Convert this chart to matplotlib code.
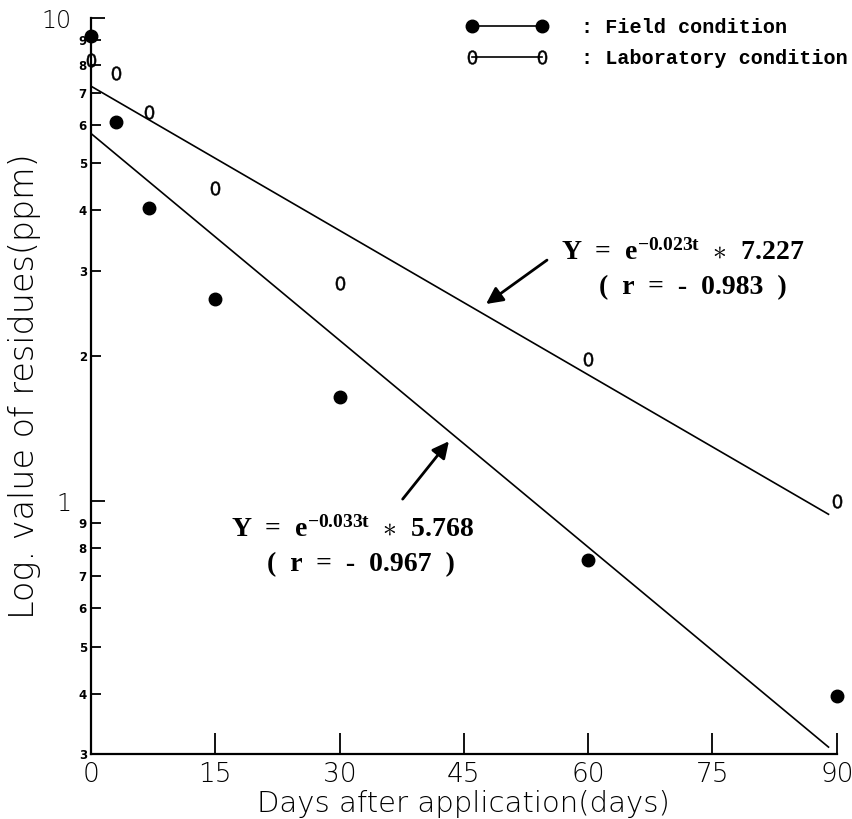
import matplotlib
matplotlib.use('Agg')
import matplotlib.pyplot as plt
from matplotlib.lines import Line2D
from matplotlib.ticker import FixedLocator, FuncFormatter
import numpy as np

# data
days = [0, 3, 7, 15, 30, 60, 90]
field = [9.2, 6.1, 4.05, 2.62, 1.64, 0.755, 0.395]
lab = [8.2, 7.7, 6.4, 4.45, 2.83, 1.97, 1.0]

# regression lines (end points)
fit_days = [0, 89]
fit_field = [5.768, 0.31]
fit_lab = [7.227, 0.94]

x_ticks = [0, 15, 30, 45, 60, 75, 90]
y_major = [1, 10]
y_minor = [0.3, 0.4, 0.5, 0.6, 0.7, 0.8, 0.9, 2, 3, 4, 5, 6, 7, 8, 9]

plt.rcParams['mathtext.fontset'] = 'custom'
plt.rcParams['mathtext.rm'] = 'Liberation Serif:bold'
plt.rcParams['mathtext.bf'] = 'Liberation Serif:bold'
plt.rcParams['mathtext.it'] = 'Liberation Serif:bold'
plt.rcParams['mathtext.sf'] = 'DejaVu Sans'

zero = r'$\mathsf{0}$'

fig = plt.figure(figsize=(8.53, 8.19), dpi=100)
ax = fig.add_axes([0.1067, 0.0794, 0.8743, 0.8986])

ax.set_yscale('log')
ax.set_xlim(0, 90)
ax.set_ylim(0.3, 10)

# fitted lines
ax.plot(fit_days, fit_lab, color='k', lw=1.2)
ax.plot(fit_days, fit_field, color='k', lw=1.2)

# points
ax.plot(days, field, 'o', color='k', ms=9, ls='none', clip_on=False)
ax.plot(days, lab, marker=zero, color='k', ms=10, mew=0.3, ls='none', clip_on=False)

# axes look
for s in ['top', 'right']:
    ax.spines[s].set_visible(False)
for s in ['left', 'bottom']:
    ax.spines[s].set_linewidth(1.6)

ax.xaxis.set_major_locator(FixedLocator(x_ticks))
ax.tick_params(axis='x', which='major', direction='in', length=15, width=1.3,
               pad=6, labelsize=19)
ax.yaxis.set_major_locator(FixedLocator(y_major))
ax.yaxis.set_minor_locator(FixedLocator(y_minor))
ax.yaxis.set_major_formatter(FuncFormatter(lambda v, p: '%d' % v))


def minor_lab(v, p):
    d = v / 10 ** np.floor(np.log10(v) + 1e-9)
    return '%d' % round(d)


ax.yaxis.set_minor_formatter(FuncFormatter(minor_lab))
ax.tick_params(axis='y', which='major', direction='in', length=10, width=1.3,
               pad=14, labelsize=17)
ax.tick_params(axis='y', which='minor', direction='in', length=7, width=1.3,
               pad=3, labelsize=8.5)
for t in ax.yaxis.get_minorticklabels():
    t.set_fontweight('bold')
for t in ax.get_xticklabels() + ax.get_yticklabels():
    t.set_fontweight('light')

ax.set_xlabel('Days after application(days)', fontsize=21, fontweight='light',
              labelpad=2)
ax.set_ylabel('Log. value of residues(ppm)', fontsize=24, fontweight='light',
              labelpad=0)

# legend
handles = [
    Line2D([], [], color='k', lw=1.2, marker='o', ms=9),
    Line2D([], [], color='k', lw=1.2, marker=zero, ms=10, mew=0.3),
]
labels = [': Field condition', ': Laboratory condition']
ax.legend(handles, labels, loc='upper left', bbox_to_anchor=(0.546, 0.978),
          bbox_transform=fig.transFigure, frameon=False, numpoints=2,
          handlelength=4.1, handletextpad=1.6, borderpad=0, borderaxespad=0,
          labelspacing=0.6,
          prop={'family': 'Liberation Mono', 'weight': 'bold', 'size': 14.5})

# equations with arrows
eq_font = dict(family='Liberation Serif', fontweight='bold', fontsize=20)
ax.annotate('', xy=(47.4, 2.54), xytext=(55.3, 3.18),
            arrowprops=dict(arrowstyle='-|>', color='k', lw=2, mutation_scale=25))
ax.text(56.7, 3.27, r'Y  =  e$^{-0.023t}$  $\ast$  7.227', ha='left', va='center', **eq_font)
ax.text(72.6, 2.77, '(  r  =  -  0.983  )', ha='center', va='center', **eq_font)

ax.annotate('', xy=(43.4, 1.345), xytext=(37.4, 1.0),
            arrowprops=dict(arrowstyle='-|>', color='k', lw=2, mutation_scale=25))
ax.text(16.9, 0.875, r'Y  =  e$^{-0.033t}$  $\ast$  5.768', ha='left', va='center', **eq_font)
ax.text(32.6, 0.740, '(  r  =  -  0.967  )', ha='center', va='center', **eq_font)

fig.savefig('out.png', dpi=100)
